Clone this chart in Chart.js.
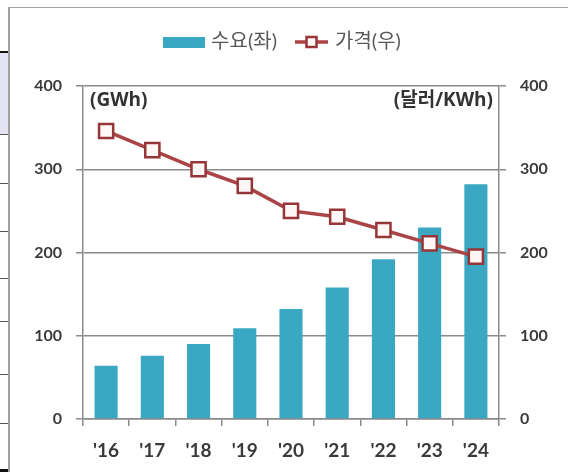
<!DOCTYPE html>
<html><head><meta charset="utf-8">
<script src="https://cdn.jsdelivr.net/npm/chart.js@4.4.1/dist/chart.umd.min.js"></script>
<style>
html,body{margin:0;padding:0;background:#fff;}
body{width:568px;height:472px;position:relative;overflow:hidden;}
#c{position:absolute;left:0;top:0;}
.fr{position:absolute;background:#a0a0a0;}
.tl{position:absolute;left:0;width:8px;height:1px;background:#555;}
</style></head><body>
<canvas id="c" width="568" height="472"></canvas>
<div style="position:absolute;left:0;top:0;width:8px;height:472px;overflow:hidden;">
  <div style="position:absolute;left:-10px;top:0px;font:32px 'Liberation Serif',serif;color:#000;line-height:40px;">)</div>
  <div style="position:absolute;left:0;top:53px;width:8px;height:81px;background:#e3e3f3;"></div>
  <div class="tl" style="top:51px;height:2px;background:#111;"></div>
  <div class="tl" style="top:134px;"></div>
  <div class="tl" style="top:183px;"></div>
  <div class="tl" style="top:231px;"></div>
  <div class="tl" style="top:278px;"></div>
  <div class="tl" style="top:321px;"></div>
  <div class="tl" style="top:374px;"></div>
  <div class="tl" style="top:423px;"></div>
  <div class="tl" style="top:469px;height:3px;background:#111;"></div>
</div>
<div class="fr" style="left:9px;top:7px;width:559px;height:1px;"></div>
<div class="fr" style="left:8px;top:7px;width:2px;height:465px;"></div>
<script>
const categories = ["'16", "'17", "'18", "'19", "'20", "'21", "'22", "'23", "'24"];
const demand = [64, 76, 90, 109, 132, 158, 192, 230, 282];
const price = [346, 323, 300, 280, 250, 243, 227, 211, 195];
const seriesNames = ['수요(좌)', '가격(우)'];
const axisUnits = ['(GWh)', '(달러/KWh)'];
const axisMin = 0, axisMax = 400, axisStep = 100;

const FONT = "Lato, 'Noto Sans CJK KR', sans-serif";
const BAR_COLOR = '#3ba8c3';
const LINE_COLOR = '#ab4446';
const MARK_BORDER = '#963638';
const MARK_FILL = '#fff6f6';
const AXIS_COLOR = '#8a8a8a';
const TEXT_COLOR = '#3a3a3a';

function barSwatch() {
  const c = document.createElement('canvas');
  c.width = 42; c.height = 11;
  const g = c.getContext('2d');
  g.fillStyle = BAR_COLOR; g.fillRect(0, 0, 42, 11);
  return c;
}
function lineSwatch() {
  const c = document.createElement('canvas');
  c.width = 44; c.height = 14;
  const g = c.getContext('2d');
  g.strokeStyle = LINE_COLOR; g.lineWidth = 3.5;
  g.beginPath(); g.moveTo(9, 7); g.lineTo(42, 7); g.stroke();
  g.fillStyle = MARK_FILL; g.fillRect(20.5, 2, 10, 10);
  g.strokeStyle = MARK_BORDER; g.lineWidth = 2.5; g.strokeRect(20.5, 2, 10, 10);
  return c;
}

const unitPlugin = {
  id: 'units',
  afterDraw(chart) {
    const {ctx, chartArea} = chart;
    ctx.save();
    ctx.font = "bold 19px 'Open Sans', 'Noto Sans CJK KR', sans-serif";
    ctx.fillStyle = '#333';
    ctx.textBaseline = 'middle';
    ctx.textAlign = 'left';
    ctx.fillText(axisUnits[0], chartArea.left + 7, chartArea.top + 15);
    ctx.textAlign = 'right';
    ctx.fillText(axisUnits[1], chartArea.right - 6, chartArea.top + 15);
    ctx.restore();
  }
};
const legendSpacer = {
  id: 'legendSpacer',
  beforeLayout(chart) {
    const lg = chart.legend;
    if (lg && !lg._spaced) {
      const f = lg.fit.bind(lg);
      lg.fit = function () { f(); this.height += 24; };
      lg._spaced = true;
    }
  }
};

const tickFont = {family: FONT, size: 16, weight: 'bold'};

new Chart(document.getElementById('c'), {
  data: {
    labels: categories,
    datasets: [
      {
        type: 'bar', label: seriesNames[0], data: demand, yAxisID: 'y',
        backgroundColor: BAR_COLOR, barPercentage: 0.5, categoryPercentage: 1.0, order: 1
      },
      {
        type: 'line', label: seriesNames[1], data: price, yAxisID: 'y1',
        borderColor: LINE_COLOR, borderWidth: 3.5, tension: 0,
        pointStyle: 'rect', pointRadius: 10, pointBorderWidth: 2.5,
        pointBackgroundColor: MARK_FILL, pointBorderColor: MARK_BORDER, order: 0
      }
    ]
  },
  options: {
    responsive: false, animation: false, devicePixelRatio: 1,
    layout: {padding: {top: 18, left: 0, right: 0, bottom: 0}},
    plugins: {
      tooltip: {enabled: false},
      legend: {
        position: 'top',
        labels: {
          usePointStyle: true, pointStyleWidth: 34, padding: 14,
          font: {family: FONT, size: 20}, color: '#595959',
          sort: (a, b) => a.datasetIndex - b.datasetIndex,
          generateLabels(chart) {
            return chart.data.datasets.map((ds, i) => ({
              text: ds.label, datasetIndex: i, hidden: false,
              pointStyle: i === 0 ? barSwatch() : lineSwatch(),
              fillStyle: 'transparent', strokeStyle: 'transparent', lineWidth: 0,
              fontColor: '#595959'
            }));
          }
        }
      }
    },
    scales: {
      x: {
        offset: true,
        grid: {offset: true, drawOnChartArea: false, tickLength: 7, color: AXIS_COLOR, lineWidth: 1.5},
        border: {color: AXIS_COLOR, width: 1.5},
        ticks: {font: {family: FONT, size: 19, weight: 'bold'}, color: TEXT_COLOR, padding: 13, maxRotation: 0},
        afterFit(s) { s.height = 53; }
      },
      y: {
        position: 'left', min: axisMin, max: axisMax,
        ticks: {stepSize: axisStep, font: tickFont, color: TEXT_COLOR, padding: 14},
        grid: {color: AXIS_COLOR, lineWidth: 1.5, tickLength: 7},
        border: {color: AXIS_COLOR, width: 1.5},
        afterFit(s) { s.width = 83; }
      },
      y1: {
        position: 'right', min: axisMin, max: axisMax,
        ticks: {stepSize: axisStep, font: tickFont, color: TEXT_COLOR, padding: 14},
        grid: {drawOnChartArea: false, color: AXIS_COLOR, lineWidth: 1.5, tickLength: 7},
        border: {color: AXIS_COLOR, width: 1.5},
        afterFit(s) { s.width = 69; }
      }
    }
  },
  plugins: [legendSpacer, unitPlugin]
});
</script>
</body></html>
